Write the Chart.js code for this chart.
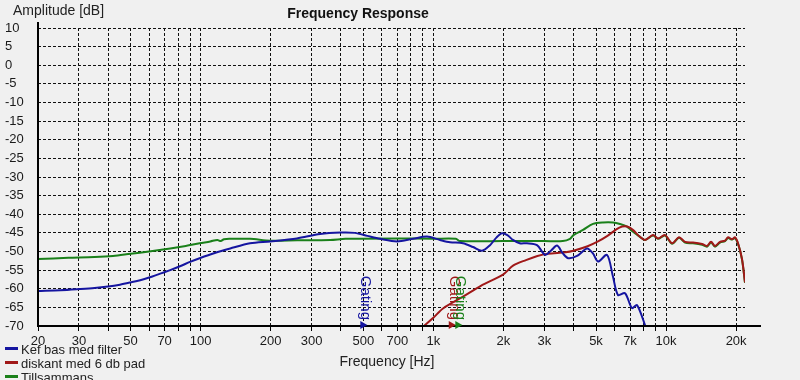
<!DOCTYPE html>
<html><head><meta charset="utf-8">
<script src="https://cdn.jsdelivr.net/npm/chart.js@4/dist/chart.umd.min.js"></script>
<style>html,body{margin:0;padding:0;background:#f0f0f0;overflow:hidden}#wrap{width:800px;height:380px}</style>
</head><body><div id="wrap"><canvas id="c" width="800" height="380"></canvas></div>
<script>
const chartTitle = 'Frequency Response';
const xTitle = 'Frequency [Hz]';
const yTitle = 'Amplitude [dB]';
const seriesNames = ['Kef bas med filter', 'diskant med 6 db pad', 'Tillsammans'];
const seriesColors = ['#1515a0', '#a01818', '#1a801a'];

const kefFreq = [20,25,30,35,40,45,50,55,62,68,74,82,90,99,115,134,163,199,259,326,400,460,520,590,698,818,939,1068,1179,1341,1481,1618,1752,1870,1972,2080,2198,2350,2526,2788,3020,3200,3400,3600,3800,4144,4575,4850,5100,5576,5916,6217,6662,7140,7504,8200];
const kefDb   = [-60.6,-60.4,-60.1,-59.8,-59.4,-58.9,-58.3,-57.7,-56.7,-55.8,-55.0,-53.9,-52.8,-51.8,-50.4,-49.2,-47.8,-47.3,-46.5,-45.3,-44.9,-45.0,-45.8,-46.6,-47.3,-46.6,-46.0,-46.9,-47.5,-47.8,-48.8,-49.8,-48.3,-46.2,-45.1,-45.6,-46.9,-47.8,-47.8,-48.3,-50.9,-49.8,-48.4,-50.5,-51.8,-51.2,-49.2,-50.5,-52.7,-50.9,-56.8,-61.7,-61.2,-65.2,-64.4,-70.5];

const diskFreq = [880,1000,1100,1341,1600,1992,2200,2500,2800,3100,3700,4000,4600,5100,5600,6300,6800,7200,7700,8120,8788,9234,9896,10608,11368,12064,13056,14276,14998,15606,16234,17058,17922,18462,19206,19784,20380,21200,21840];
const diskDb   = [-70.8,-67.8,-65.3,-62.1,-59.2,-56.2,-53.8,-52.3,-51.2,-50.6,-50.2,-49.8,-48.6,-47.3,-45.8,-43.6,-43.3,-44.2,-46.0,-46.9,-45.6,-46.5,-45.6,-47.8,-46.2,-47.4,-47.6,-48.0,-48.5,-47.4,-48.5,-47.4,-47.1,-46.2,-46.7,-46.2,-47.8,-52.0,-58.3];

const totFreq = [20,27,35,42,50,60,74,85,99,110,118,122,126,134,163,199,260,360,420,700,1000,1250,1300,2000,3000,3600,3866,4000,4398,4854,5358,5916,6340,6796,7140,7700,8120,8788,9234,9896,10608,11368,12064,13056,14276,14998,15606,16234,17058,17922,18462,19206,19784,20380,21200,21840];
const totDb   = [-52.0,-51.7,-51.5,-51.2,-50.6,-50.0,-49.2,-48.6,-47.8,-47.3,-46.9,-47.2,-46.7,-46.6,-46.6,-47.1,-47.0,-46.9,-46.6,-46.5,-46.6,-46.6,-47.2,-47.2,-47.2,-47.2,-46.6,-45.6,-44.2,-42.6,-42.2,-42.2,-42.6,-43.3,-44.5,-46.0,-46.9,-45.7,-46.6,-45.7,-47.9,-46.3,-47.6,-47.8,-48.2,-48.7,-47.6,-48.7,-47.6,-47.2,-46.4,-46.8,-46.4,-47.9,-52.1,-58.4];

const xTickValues = [20,30,40,50,60,70,80,90,100,200,300,400,500,600,700,800,900,1000,2000,3000,4000,5000,6000,7000,8000,9000,10000,20000];
const xTickLabels = ['20','30','','50','','70','','','100','200','300','','500','','700','','','1k','2k','3k','','5k','','7k','','','10k','20k'];
const yMin = -70, yMax = 10, yStep = 5;
const xMin = 20, xMax = 21840;

const gatingFreqs = [500, 1200, 1280];
const gatingColors = ['#1515a0', '#a01818', '#1a801a'];
const gatingText = 'Gating';

function pairs(fs, ds) { return fs.map((f, i) => ({x: f, y: ds[i]})); }

const FONT = '"Liberation Sans", Arial, sans-serif';

const decor = {
  id: 'decor',
  beforeDraw(chart) {
    const ctx = chart.ctx;
    ctx.save();
    ctx.fillStyle = '#f0f0f0';
    ctx.fillRect(0, 0, chart.width, chart.height);
    ctx.restore();
  },
  afterDraw(chart) {
    const ctx = chart.ctx, ca = chart.chartArea, xs = chart.scales.x;
    ctx.save();
    ctx.setLineDash([]);
    ctx.strokeStyle = '#000';
    ctx.lineWidth = 2;
    ctx.beginPath(); ctx.moveTo(ca.left, ca.top - 6); ctx.lineTo(ca.left, ca.bottom + 1); ctx.stroke();
    ctx.beginPath(); ctx.moveTo(ca.left - 1, ca.bottom); ctx.lineTo(ca.right + 16, ca.bottom); ctx.stroke();

    // gating markers
    gatingFreqs.forEach((f, i) => {
      const px = xs.getPixelForValue(f);
      const py = ca.bottom - 1;
      ctx.fillStyle = gatingColors[i];
      ctx.beginPath();
      ctx.moveTo(px - 3, py - 4); ctx.lineTo(px + 4, py); ctx.lineTo(px - 3, py + 4); ctx.closePath();
      ctx.fill();
      ctx.save();
      ctx.translate(px + 2, ca.bottom - 6);
      ctx.rotate(Math.PI / 2);
      ctx.font = '15px ' + FONT;
      ctx.textAlign = 'right';
      ctx.textBaseline = 'middle';
      ctx.fillText(gatingText, 0, 0);
      ctx.restore();
    });

    // titles
    ctx.fillStyle = '#111';
    ctx.textBaseline = 'middle';
    ctx.textAlign = 'center';
    ctx.font = 'bold 14px ' + FONT;
    ctx.fillText(chartTitle, 358, 14);
    ctx.font = '14px ' + FONT;
    ctx.fillStyle = '#222';
    ctx.textAlign = 'left';
    ctx.fillText(yTitle, 13, 11);
    ctx.textAlign = 'center';
    ctx.fillText(xTitle, 387, 362);

    // legend
    ctx.font = '13px ' + FONT;
    ctx.textAlign = 'left';
    chart.data.datasets.forEach((ds, i) => {
      const ty = 350 + i * 14;
      ctx.strokeStyle = ds.borderColor;
      ctx.lineWidth = 3;
      ctx.beginPath(); ctx.moveTo(5, ty - 1.5); ctx.lineTo(18, ty - 1.5); ctx.stroke();
      ctx.fillStyle = '#222';
      ctx.fillText(ds.label, 21, ty);
    });
    ctx.restore();
  }
};

new Chart(document.getElementById('c'), {
  type: 'line',
  data: {
    datasets: [
      {label: seriesNames[0], data: pairs(kefFreq, kefDb), borderColor: seriesColors[0]},
      {label: seriesNames[1], data: pairs(diskFreq, diskDb), borderColor: seriesColors[1]},
      {label: seriesNames[2], data: pairs(totFreq, totDb), borderColor: seriesColors[2]}
    ]
  },
  options: {
    responsive: false,
    animation: false,
    devicePixelRatio: 1,
    layout: {padding: {left: 5, top: 28, right: 55, bottom: 0}},
    elements: {
      line: {borderWidth: 2, tension: 0.3, fill: false},
      point: {radius: 0, hoverRadius: 0}
    },
    plugins: {legend: {display: false}, title: {display: false}, tooltip: {enabled: false}},
    events: [],
    scales: {
      x: {
        type: 'logarithmic',
        min: xMin, max: xMax,
        afterBuildTicks: (s) => { s.ticks = xTickValues.map(v => ({value: v})); },
        afterFit: (s) => { s.height = 54; },
        ticks: {
          autoSkip: false, maxRotation: 0, minRotation: 0, padding: 3,
          color: '#1a1a1a', font: {family: FONT, size: 13},
          callback: (v) => { const i = xTickValues.indexOf(v); return i >= 0 ? xTickLabels[i] : ''; }
        },
        grid: {color: '#111', lineWidth: 1, tickLength: 5, tickColor: '#000', drawTicks: true},
        border: {display: false, dash: [3, 2]}
      },
      y: {
        type: 'linear',
        min: yMin, max: yMax,
        afterFit: (s) => { s.width = 33; },
        ticks: {
          stepSize: yStep, crossAlign: 'far', padding: 0,
          color: '#1a1a1a', font: {family: FONT, size: 13}
        },
        grid: {color: '#111', lineWidth: 1, drawTicks: false},
        border: {display: false, dash: [3, 2]}
      }
    }
  },
  plugins: [decor]
});
</script>
</body></html>
